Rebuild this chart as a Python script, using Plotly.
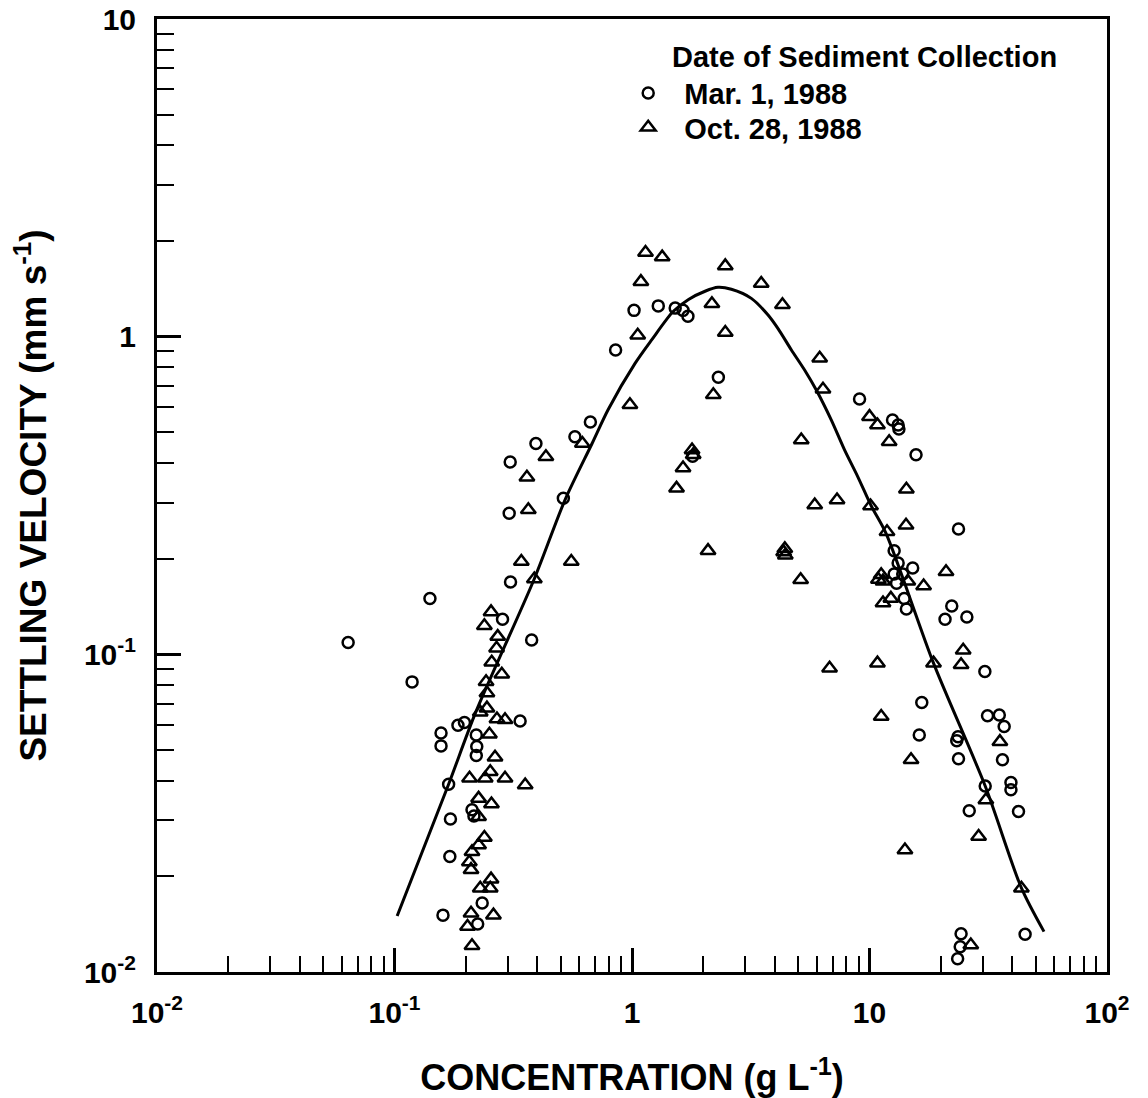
import plotly.graph_objects as go

# ---- data ----
mar_x = [0.0638, 0.1186, 0.141, 0.157, 0.157, 0.185, 0.197, 0.221, 0.222, 0.221,
         0.169, 0.172, 0.212, 0.216, 0.171, 0.234, 0.160, 0.224, 0.285, 0.338,
         0.378, 0.308, 0.304, 0.307, 0.394, 0.514, 0.575, 0.668,
         0.853, 1.02, 1.29, 1.52, 1.64, 1.72, 2.31, 1.80,
         9.08, 12.5, 13.2, 13.3, 15.7, 23.7, 12.7, 13.2, 15.2, 12.7, 13.8, 13.0,
         14.0, 14.3, 22.2, 20.8, 25.7, 30.6, 16.6, 16.2, 23.3, 23.6, 23.7, 31.4,
         35.2, 36.9, 36.3, 39.4, 39.4, 30.7, 26.3, 42.4, 24.3, 24.1, 23.5, 45.2]
mar_y = [0.109, 0.0819, 0.150, 0.0565, 0.0515, 0.0598, 0.061, 0.0557, 0.0513, 0.048,
         0.039, 0.0303, 0.0324, 0.0310, 0.0231, 0.0165, 0.0151, 0.01416, 0.129, 0.0617,
         0.111, 0.169, 0.278, 0.403, 0.461, 0.310, 0.484, 0.539,
         0.908, 1.21, 1.25, 1.23, 1.21, 1.16, 0.745, 0.42,
         0.636, 0.547, 0.527, 0.512, 0.425, 0.248, 0.212, 0.194, 0.187, 0.179, 0.179, 0.1675,
         0.150, 0.1388, 0.142, 0.129, 0.131, 0.0883, 0.0705, 0.0557, 0.0535, 0.0550, 0.0469, 0.0641,
         0.0644, 0.0593, 0.0466, 0.0375, 0.0395, 0.0385, 0.0322, 0.0320, 0.0132, 0.0120, 0.0110, 0.01315]

oct_x = [0.366, 0.342, 0.555, 0.388, 0.255, 0.239, 0.272, 0.269, 0.2567, 0.283,
         0.243, 0.245, 0.245, 0.2296, 0.270, 0.292, 0.251, 0.265, 0.253, 0.207,
         0.241, 0.292, 0.355, 0.226, 0.256, 0.226, 0.239, 0.226, 0.212, 0.2066,
         0.210, 0.255, 0.2296, 0.253, 0.210, 0.261, 0.203, 0.212, 0.434, 0.361, 0.618,
         1.14, 1.34, 1.09, 1.057, 2.47, 3.50, 2.17, 4.30, 2.47, 6.17,
         6.37, 2.20, 0.98, 5.16, 1.79, 1.81, 1.64, 1.54, 5.88, 7.3,
         2.09, 4.35, 4.42, 4.40, 5.13, 6.79,
         10.0, 10.8, 12.1, 14.3, 10.1, 11.85, 14.25, 10.9, 11.2, 11.4,
         14.5, 16.9, 21.0, 11.4, 12.3, 10.8, 18.6, 24.8, 24.3, 11.2,
         14.96, 35.4, 30.9, 28.8, 14.1, 43.6, 26.7]
oct_y = [0.285, 0.196, 0.196, 0.1726, 0.136, 0.123, 0.1137, 0.1045, 0.0944, 0.0865,
         0.082, 0.0755, 0.0677, 0.0657, 0.0626, 0.0622, 0.056, 0.0474, 0.0427, 0.0407,
         0.0407, 0.0407, 0.0388, 0.0352, 0.0338, 0.0308, 0.0265, 0.0251, 0.0239, 0.0222,
         0.0210, 0.0196, 0.01835, 0.01835, 0.0153, 0.0151, 0.0139, 0.0121, 0.419, 0.361, 0.461,
         1.84, 1.78, 1.49, 1.01, 1.67, 1.47, 1.27, 1.26, 1.03, 0.855,
         0.683, 0.656, 0.610, 0.473, 0.44, 0.425, 0.386, 0.333, 0.295, 0.306,
         0.212, 0.210, 0.205, 0.215, 0.1716, 0.0904,
         0.560, 0.527, 0.467, 0.331, 0.293, 0.243, 0.255, 0.172, 0.178, 0.170,
         0.1698, 0.164, 0.182, 0.145, 0.150, 0.0938, 0.0938, 0.103, 0.0927, 0.0637,
         0.0466, 0.0531, 0.0348, 0.0267, 0.0242, 0.01835, 0.01216]

curve_x = [0.1026, 0.169, 0.219, 0.388, 0.522, 0.679, 0.794, 1.03, 1.21, 1.49,
           1.73, 2.03, 2.30, 2.62, 3.18, 3.74, 4.12, 4.69, 5.33, 5.97,
           6.90, 7.85, 8.93, 10.2, 11.75, 18.6, 30.7, 43.6, 54.3]
curve_y = [0.0150, 0.039, 0.0653, 0.173, 0.306, 0.461, 0.59, 0.824, 0.977, 1.20,
           1.31, 1.39, 1.43, 1.41, 1.32, 1.17, 1.06, 0.908, 0.785, 0.679,
           0.547, 0.44, 0.362, 0.292, 0.240, 0.0938, 0.0385, 0.0184, 0.0134]

x_major = [0.01, 0.1, 1, 10, 100]
x_labels = ["10<sup>-2</sup>", "10<sup>-1</sup>", "1", "10", "10<sup>2</sup>"]
y_major = [0.01, 0.1, 1, 10]
y_labels = ["10<sup>-2</sup>", "10<sup>-1</sup>", "1", "10"]
x_minor = [m * 10.0 ** e for e in range(-2, 2) for m in range(2, 10)]
y_minor = [m * 10.0 ** e for e in range(-2, 1) for m in range(2, 10)]

FONT = "Liberation Sans"
NB = "\u00a0\u00a0"

fig = go.Figure()
fig.add_trace(go.Scatter(x=curve_x, y=curve_y, mode="lines",
                         line=dict(color="black", width=3, shape="spline", smoothing=0.8),
                         showlegend=False, hoverinfo="skip"))
fig.add_trace(go.Scatter(x=mar_x, y=mar_y, mode="markers", name=NB + "Mar. 1, 1988",
                         legend="legend",
                         marker=dict(symbol="circle-open", size=11, color="black",
                                     line=dict(width=2.5, color="black"))))
fig.add_trace(go.Scatter(x=oct_x, y=oct_y, mode="markers", name=NB + "Oct. 28, 1988",
                         legend="legend2",
                         marker=dict(symbol="triangle-up-open", size=13, color="black",
                                     line=dict(width=2.5, color="black"))))

axis_common = dict(
    type="log", showline=True, linewidth=3, linecolor="black", mirror=True,
    ticks="inside", tickwidth=2.5, tickcolor="black", showgrid=False, zeroline=False,
    tickmode="array", automargin=False,
    tickfont=dict(family=FONT, size=30, color="black", weight="bold"),
)

fig.update_xaxes(**axis_common, range=[-2, 2], tickvals=x_major, ticktext=x_labels,
                 ticklen=24, ticklabelstandoff=12,
                 minor=dict(tickmode="array", tickvals=x_minor, ticks="inside",
                            ticklen=16, tickwidth=2.2, tickcolor="black", showgrid=False),
                 title=dict(text="CONCENTRATION (g L<sup>-1</sup>)", standoff=38,
                            font=dict(family=FONT, size=36, color="black", weight="bold")))
fig.update_yaxes(**axis_common, range=[-2, 1], tickvals=y_major, ticktext=y_labels,
                 ticklen=24, ticklabelstandoff=12,
                 minor=dict(tickmode="array", tickvals=y_minor, ticks="inside",
                            ticklen=17, tickwidth=2.2, tickcolor="black", showgrid=False),
                 title=dict(text="SETTLING VELOCITY (mm s<sup>-1</sup>)", standoff=26,
                            font=dict(family=FONT, size=37, color="black", weight="bold")))

fig.add_annotation(text="Date of Sediment Collection", xref="paper", yref="paper",
                   x=0.540, y=0.960, xanchor="left", yanchor="middle", showarrow=False,
                   font=dict(family=FONT, size=29, color="black", weight="bold"))

legend_font = dict(family=FONT, size=29, color="black", weight="bold")
fig.update_layout(
    width=1148, height=1098,
    margin=dict(l=157, r=41, t=19, b=126, autoexpand=False),
    paper_bgcolor="white", plot_bgcolor="white",
    legend=dict(x=0.496, y=0.949, xanchor="left", yanchor="top",
                bgcolor="rgba(0,0,0,0)", itemwidth=30, font=legend_font),
    legend2=dict(x=0.496, y=0.913, xanchor="left", yanchor="top",
                 bgcolor="rgba(0,0,0,0)", itemwidth=30, font=legend_font),
)

fig.write_html("out.html")
